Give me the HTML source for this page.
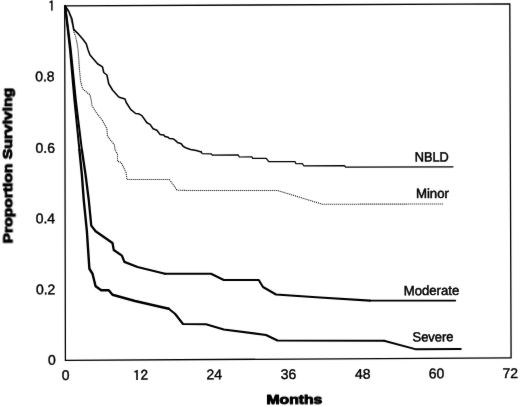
<!DOCTYPE html>
<html><head><meta charset="utf-8"><title>Survival</title>
<style>
html,body{margin:0;padding:0;background:#fff}
svg{display:block;filter:grayscale(1)}
text{font-family:"Liberation Sans",sans-serif;fill:#000}
.t{font-size:14px;stroke:#000;stroke-width:0.4px}
.c{font-size:13.4px;stroke-width:0.5px}
.one{font-family:"IPAGothic","Liberation Sans",sans-serif;font-size:13.6px}
.b{font-size:13.4px;font-weight:bold;stroke:#000;stroke-width:1.0px;stroke-linejoin:round}
</style></head><body>
<svg width="520" height="406" viewBox="0 0 520 406">
<defs>
<filter id="soft" x="0" y="0" width="520" height="406" filterUnits="userSpaceOnUse" color-interpolation-filters="sRGB"><feConvolveMatrix order="3" kernelMatrix="0.01 0.04 0.01 0.04 0.8 0.04 0.01 0.04 0.01" edgeMode="duplicate" preserveAlpha="true"/></filter>
</defs>
<g filter="url(#soft)">
<rect width="520" height="406" fill="#fff"/>
<polygon points="64.70,5.85 509.80,3.90 511.10,357.90 65.40,360.30" fill="none" stroke="#000" stroke-width="1.3"/>
<polyline points="65.00,5.60 69.40,13.75 72.50,25.00 74.40,33.75 75.60,36.25 76.90,42.50 78.10,50.00 79.40,68.75 80.60,81.25 82.50,88.75 90.00,95.00 91.25,100.00 91.90,105.60 96.25,112.50 102.50,120.60 106.90,128.75 107.50,136.25 114.40,145.00 115.00,150.00 117.50,154.00 117.50,161.25 121.25,162.50 126.00,172.50 127.00,179.50 169.50,179.50 177.00,190.20 190.00,190.50 277.50,190.50 322.50,204.25 443.75,204.00" fill="none" stroke="#111" stroke-width="1.1" stroke-dasharray="1.1 0.9"/>
<polyline points="65.00,5.60 68.75,11.25 71.90,18.75 73.75,29.40 78.75,34.40 82.50,38.75 86.25,43.75 88.10,50.00 90.00,55.00 97.50,63.75 102.50,66.90 103.75,72.50 106.90,75.00 108.75,83.75 112.50,90.00 118.75,96.90 120.00,97.60 125.00,99.00 126.25,102.50 130.60,109.40 135.60,113.50 138.75,113.80 141.90,115.60 146.90,122.75 150.00,124.40 153.10,128.75 156.90,130.25 160.00,134.40 163.75,135.00 165.00,136.50 168.10,137.25 169.40,138.50 173.10,138.75 175.60,140.60 177.50,142.50 181.25,143.75 183.10,146.25 186.25,148.10 190.60,149.40 196.25,150.60 201.25,151.90" fill="none" stroke="#000" stroke-width="1.55" stroke-linejoin="round" stroke-linecap="round"/>
<polyline points="201.25,151.90 202.25,153.75 211.25,153.90 212.25,155.00 238.10,154.90 239.40,157.00 251.90,156.90 252.75,158.40 266.25,158.30 268.75,161.60 295.00,161.50 296.00,163.75 302.50,163.70 303.75,165.80 344.40,165.70 345.60,167.00 453.00,166.75" fill="none" stroke="#000" stroke-width="1.25" stroke-linejoin="round" stroke-linecap="round"/>
<polyline points="65.30,6.60 70.80,50.00 75.80,100.00 81.90,150.00" fill="none" stroke="#000" stroke-width="2.0" stroke-linejoin="round" stroke-linecap="round"/>
<polyline points="81.90,150.00 85.60,175.00 88.75,200.00 91.25,225.60 95.60,231.25 112.50,243.00 113.75,250.00 121.90,255.60 124.40,261.90 137.50,267.00 165.00,273.75" fill="none" stroke="#000" stroke-width="2.3" stroke-linejoin="round" stroke-linecap="round"/>
<polyline points="165.00,273.75 211.00,273.75 223.75,280.00 258.75,280.00 263.00,287.00 276.00,294.50 320.00,297.50 370.00,300.60" fill="none" stroke="#000" stroke-width="2.1" stroke-linejoin="round" stroke-linecap="round"/>
<polyline points="370.00,300.60 455.30,300.60" fill="none" stroke="#000" stroke-width="1.75" stroke-linejoin="round" stroke-linecap="round"/>
<polyline points="65.20,6.60 70.00,50.00 74.40,100.00 79.40,150.00" fill="none" stroke="#000" stroke-width="2.0" stroke-linejoin="round" stroke-linecap="round"/>
<polyline points="79.40,150.00 81.90,175.00 83.75,200.00 86.90,231.25 88.10,250.00 89.40,268.75 92.50,273.75 95.60,286.25 101.25,290.25 108.75,290.25 112.50,294.75 135.00,301.00 168.75,308.75" fill="none" stroke="#000" stroke-width="2.4" stroke-linejoin="round" stroke-linecap="round"/>
<polyline points="168.75,308.75 175.00,313.75 183.00,324.00 206.00,324.25 223.75,329.50 266.00,335.00 277.50,340.50 384.00,340.75" fill="none" stroke="#000" stroke-width="2.2" stroke-linejoin="round" stroke-linecap="round"/>
<polyline points="384.00,340.75 415.30,349.20 460.80,349.00" fill="none" stroke="#000" stroke-width="1.9" stroke-linejoin="round" stroke-linecap="round"/>
<g class="t" text-anchor="middle">
<text x="65.7" y="380.00" transform="rotate(-0.24 65.7 380.00)">0</text><text x="140.6" y="379.66" transform="rotate(-0.24 140.6 379.66)"><tspan class="one" dy="0.7" textLength="15.3" lengthAdjust="spacingAndGlyphs">12</tspan></text><text x="214.2" y="379.33" transform="rotate(-0.24 214.2 379.33)">24</text><text x="288.6" y="379.00" transform="rotate(-0.24 288.6 379.00)">36</text><text x="362.8" y="378.66" transform="rotate(-0.24 362.8 378.66)">48</text><text x="436.5" y="378.33" transform="rotate(-0.24 436.5 378.33)">60</text><text x="510.3" y="378.00" transform="rotate(-0.24 510.3 378.00)">72</text>
</g>
<g class="t" text-anchor="end">
<text x="55.1" y="11.0" transform="rotate(-0.24 55.1 11.0)"><tspan class="one">1</tspan></text><text x="54.6" y="81.1" transform="rotate(-0.24 54.6 81.1)">0.8</text><text x="55.0" y="152.7" transform="rotate(-0.24 55.0 152.7)">0.6</text><text x="55.1" y="223.1" transform="rotate(-0.24 55.1 223.1)">0.4</text><text x="55.4" y="294.1" transform="rotate(-0.24 55.4 294.1)">0.2</text><text x="55.7" y="364.6" transform="rotate(-0.24 55.7 364.6)">0</text>
</g>
<g class="t c">
<text x="414.7" y="161.6" transform="rotate(-0.24 414.7 161.6)" textLength="34.2" lengthAdjust="spacingAndGlyphs">NBLD</text>
<text x="415.9" y="198.1" transform="rotate(-0.24 415.9 198.1)" textLength="33.1" lengthAdjust="spacingAndGlyphs">Minor</text>
<text x="403.7" y="295.2" transform="rotate(-0.24 403.7 295.2)" textLength="55.6" lengthAdjust="spacingAndGlyphs">Moderate</text>
<text x="412.5" y="341.5" transform="rotate(-0.24 412.5 341.5)" textLength="41.0" lengthAdjust="spacingAndGlyphs">Severe</text>
</g>
<text class="b" x="266.5" y="403.7" transform="rotate(-0.24 266.5 403.7)" textLength="55.8" lengthAdjust="spacingAndGlyphs">Months</text>
<text class="b" transform="translate(12.4,243.4) rotate(-90.24)" textLength="155.5" lengthAdjust="spacingAndGlyphs">Proportion Surviving</text>
</g>
</svg>
</body></html>
